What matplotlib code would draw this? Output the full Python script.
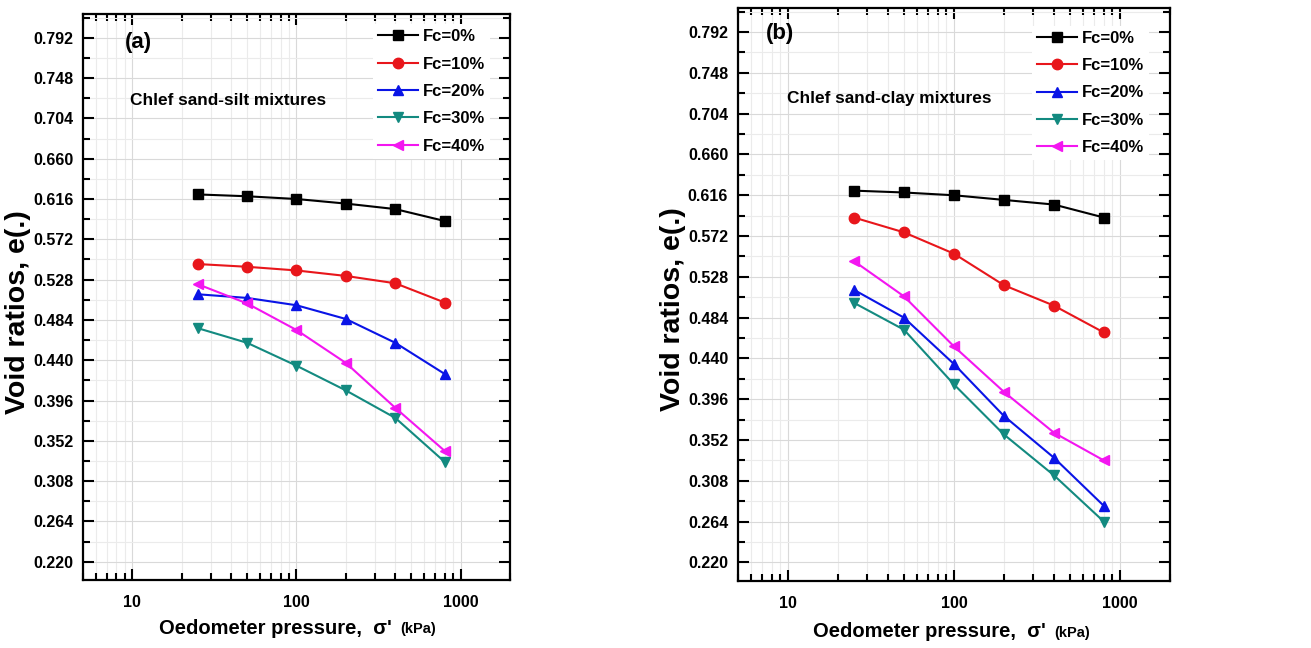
import matplotlib
matplotlib.use("Agg")
import matplotlib.pyplot as plt
import numpy as np
from matplotlib.ticker import FixedLocator, LogLocator, NullFormatter, FuncFormatter

plt.rcParams['font.family'] = ['Liberation Sans', 'DejaVu Sans']
plt.rcParams['font.weight'] = 'bold'

# oedometer pressure (kPa)
pressure = [25, 50, 100, 200, 400, 800]
labels = ['Fc=0%', 'Fc=10%', 'Fc=20%', 'Fc=30%', 'Fc=40%']

# (a) Chlef sand-silt mixtures
silt_0 = [0.621, 0.619, 0.616, 0.611, 0.605, 0.592]
silt_10 = [0.545, 0.542, 0.538, 0.532, 0.524, 0.503]
silt_20 = [0.512, 0.508, 0.500, 0.485, 0.459, 0.425]
silt_30 = [0.475, 0.459, 0.434, 0.407, 0.377, 0.329]
silt_40 = [0.523, 0.502, 0.473, 0.437, 0.388, 0.341]

# (b) Chlef sand-clay mixtures
clay_0 = [0.621, 0.619, 0.616, 0.611, 0.606, 0.592]
clay_10 = [0.592, 0.576, 0.553, 0.519, 0.497, 0.468]
clay_20 = [0.514, 0.484, 0.434, 0.378, 0.333, 0.281]
clay_30 = [0.500, 0.471, 0.412, 0.358, 0.314, 0.264]
clay_40 = [0.545, 0.507, 0.453, 0.404, 0.360, 0.330]

yticks = [0.220, 0.264, 0.308, 0.352, 0.396, 0.440, 0.484, 0.528,
          0.572, 0.616, 0.660, 0.704, 0.748, 0.792]

colors = ['black', '#e8161b', '#0a14e6', '#138a80', '#f316f0']
markers = ['s', 'o', '^', 'v', '<']

fig = plt.figure(figsize=(13.11, 6.48), dpi=100)
ax_a = fig.add_axes([0.0633, 0.1049, 0.3257, 0.8735])
ax_b = fig.add_axes([0.5629, 0.1034, 0.3295, 0.8843])


def draw(ax, series, tag, title, pos):
    for ys, c, m, lab in zip(series, colors, markers, labels):
        ax.plot(pressure, ys, color=c, marker=m, markersize=7.5, lw=1.5, label=lab)
    ax.set_xscale('log')
    ax.set_xlim(5, 2000)
    ax.set_ylim(0.200, 0.818)
    ax.yaxis.set_major_locator(FixedLocator(yticks))
    ax.yaxis.set_minor_locator(FixedLocator([t + 0.022 for t in yticks[:-1]] + [0.814]))
    ax.yaxis.set_major_formatter(FuncFormatter(lambda v, p: '%.3f' % v))
    ax.xaxis.set_major_locator(LogLocator(base=10))
    ax.xaxis.set_minor_locator(LogLocator(base=10, subs=np.arange(2, 10)))
    ax.xaxis.set_minor_formatter(NullFormatter())
    ax.xaxis.set_major_formatter(FuncFormatter(lambda v, p: '%d' % v))
    ax.tick_params(which='both', direction='in', top=True, right=True, width=1.5,
                   labelsize=11.5)
    ax.tick_params(axis='x', pad=11)
    ax.tick_params(axis='y', pad=7)
    ax.tick_params(which='major', length=8)
    ax.tick_params(which='minor', length=5)
    ax.grid(which='major', color='#d9d9d9', lw=0.8)
    ax.grid(which='minor', color='#ebebeb', lw=0.8)
    ax.set_axisbelow(True)
    for s in ax.spines.values():
        s.set_linewidth(1.6)
    for t in ax.get_xticklabels() + ax.get_yticklabels():
        t.set_fontweight('bold')
    ax.text(pos['tag'][0], pos['tag'][1], tag, transform=ax.transAxes, fontsize=16,
            fontweight='bold', va='center', ha='left')
    ax.text(pos['title'][0], pos['title'][1], title, transform=ax.transAxes,
            fontsize=12.4, fontweight='bold', va='center', ha='left')
    ax.legend(loc='upper left', bbox_to_anchor=pos['leg'], borderaxespad=0,
              frameon=True, fancybox=False, edgecolor='none', facecolor='white',
              framealpha=1, prop={'size': 12, 'weight': 'bold'}, handlelength=2.4,
              handletextpad=0.3, labelspacing=0.74, borderpad=0.3)
    ax.set_ylabel('Void ratios, e(.)', fontsize=20.5, fontweight='bold')
    ax.yaxis.set_label_coords(pos['ylab'], 0.474)
    t1 = ax.text(pos['xlab'][0], pos['xlab'][1], "Oedometer pressure,  σ'",
                 transform=ax.transAxes, fontsize=14.5, fontweight='bold',
                 ha='center', va='center')
    ax.annotate('(kPa)', xy=(1, 0), xycoords=t1, xytext=(6, 1),
                textcoords='offset points', fontsize=10.5, fontweight='bold',
                ha='left', va='bottom')


draw(ax_a, [silt_0, silt_10, silt_20, silt_30, silt_40], '(a)', 'Chlef sand-silt mixtures',
     {'tag': (0.098, 0.949), 'title': (0.110, 0.848), 'leg': (0.679, 0.982),
      'ylab': -0.1225, 'xlab': (0.45, -0.085)})
draw(ax_b, [clay_0, clay_10, clay_20, clay_30, clay_40], '(b)', 'Chlef sand-clay mixtures',
     {'tag': (0.065, 0.956), 'title': (0.113, 0.842), 'leg': (0.68, 0.969),
      'ylab': -0.121, 'xlab': (0.444, -0.089)})

fig.savefig('out.png', dpi=100)
